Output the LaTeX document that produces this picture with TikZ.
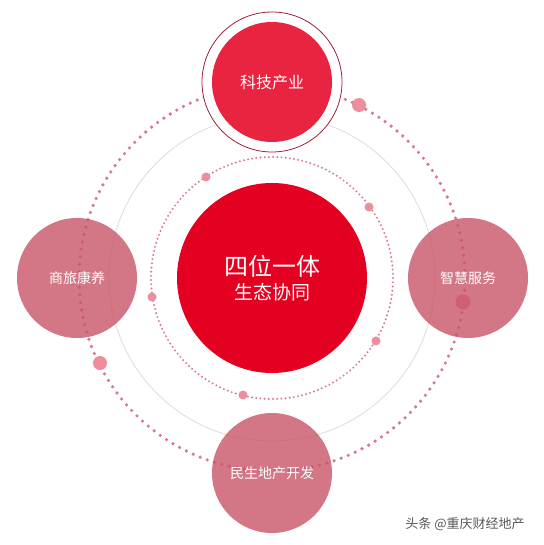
\documentclass[tikz,border=0pt]{standalone}
\usepackage{fontspec}
\newfontfamily\cjk{Noto Sans CJK SC}
\definecolor{CoreRed}{RGB}{228,0,32}
\definecolor{TopRed}{RGB}{233,36,64}
\definecolor{RingRed}{RGB}{160,30,52}
\definecolor{PetalPink}{RGB}{201,84,104}
\definecolor{DotPink}{RGB}{212,124,144}
\definecolor{BeadPink}{RGB}{236,142,158}
\definecolor{OrbitGray}{RGB}{230,220,223}
\usetikzlibrary{positioning}
\tikzset{
  petal/.style={circle, fill=PetalPink, fill opacity=0.8, text opacity=1, text=white,
    minimum size=120pt, inner sep=0pt, font=\cjk\fontsize{14}{16}\selectfont},
  bead/.style={circle, fill=BeadPink, inner sep=0pt, minimum size=#1},
  bigdots/.style={DotPink, line width=3.6pt, line cap=round, dash pattern=on 0pt off 7.6pt},
  smalldots/.style={DotPink, line width=2.2pt, line cap=round, dash pattern=on 0pt off 4.2pt}
}
\begin{document}
\begin{tikzpicture}[x=1pt,y=-1pt]
  \fill[white] (0,0) rectangle (543,545);
  \useasboundingbox (0,0) rectangle (543,545);
  \coordinate (hub) at (272,278);
  % orbits
  \draw[OrbitGray, line width=0.9pt] (hub) circle (163pt);
  \draw[bigdots] (hub) circle (193pt);
  \draw[smalldots] (hub) circle (121pt);
  % beads on the orbits
  \node[bead=14pt] (bo1) at (359,105) {};
  \node[bead=14pt] (bo2) at (100,363) {};
  \node[bead=15pt] (bo3) at (463,302) {};
  \node[bead=9pt] (bi1) at (206,177) {};
  \node[bead=9pt] (bi2) at (369,207) {};
  \node[bead=9pt] (bi3) at (152,297) {};
  \node[bead=9pt] (bi4) at (376,341) {};
  \node[bead=9pt] (bi5) at (243,395) {};
  % core
  \node[circle, fill=CoreRed, minimum size=190pt, inner sep=0pt, text=white, align=center] (core) at (hub)
    {{\cjk\fontsize{24}{28}\selectfont 四位一体}\\[5pt]{\cjk\fontsize{19}{22}\selectfont 生态协同}};
  % petals
  \node[petal] (tourism) at (77,278) {商旅康养};
  \node[petal] (service) at (468,278) {智慧服务};
  \node[petal] (estate) at (272,473) {民生地产开发};
  \node[circle, fill=white, draw=RingRed, line width=0.8pt, minimum size=140pt, inner sep=0pt] (halo) at (272,82) {};
  \node[circle, fill=TopRed, minimum size=120pt, inner sep=0pt, text=white,
    font=\cjk\fontsize{16}{18}\selectfont] (tech) at (halo) {科技产业};
  % watermark
  \node[text=black!65, font=\cjk\fontsize{13}{15}\selectfont] (credit) at (465,524) {头条 @重庆财经地产};
\end{tikzpicture}
\end{document}
